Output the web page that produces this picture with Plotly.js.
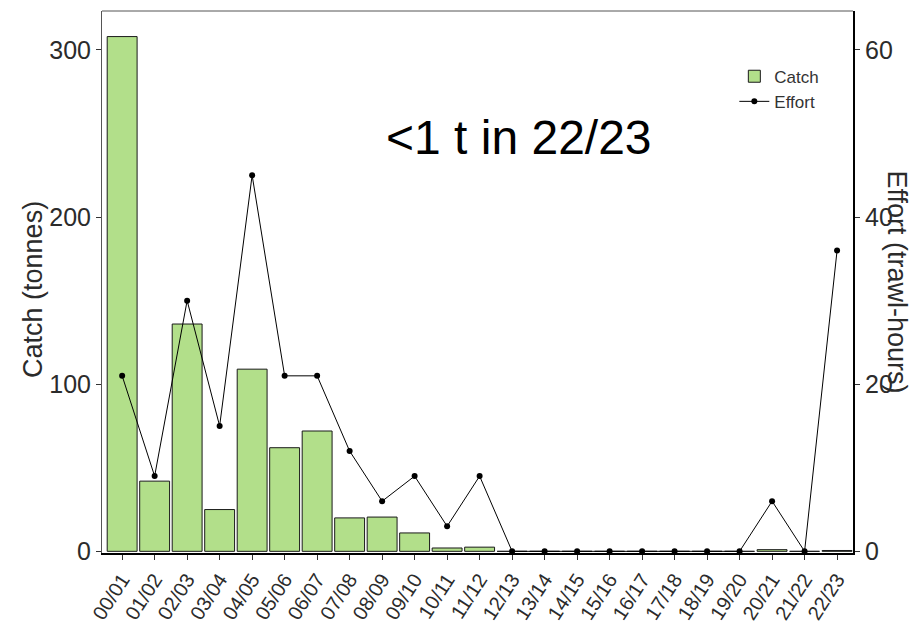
<!DOCTYPE html>
<html>
<head>
<meta charset="utf-8">
<script src="https://cdn.plot.ly/plotly-3.0.1.min.js"></script>
<style>html,body{margin:0;padding:0;background:#fff;}#chart{width:914px;height:637px;}</style>
</head>
<body>
<div id="chart"></div>
<script>
const seasons = ["00/01","01/02","02/03","03/04","04/05","05/06","06/07","07/08","08/09","09/10","10/11","11/12","12/13","13/14","14/15","15/16","16/17","17/18","18/19","19/20","20/21","21/22","22/23"];
const catchTonnes = [308, 42, 136, 25, 109, 62, 72, 20, 20.5, 11, 2, 2.5, 0, 0, 0, 0, 0, 0, 0, 0, 1, 0, 0.5];
const effortHours = [21, 9, 30, 15, 45, 21, 21, 12, 6, 9, 3, 9, 0, 0, 0, 0, 0, 0, 0, 0, 6, 0, 36];
const xIdx = seasons.map((s, i) => i);

const font = "Liberation Sans, Arial, sans-serif";
const txt = "#2b2b2b";

const traces = [
  {
    type: "bar", name: "Catch", x: xIdx, y: catchTonnes,
    marker: {color: "#B2DF8A", line: {color: "#1a1a1a", width: 1}},
    yaxis: "y"
  },
  {
    type: "scatter", mode: "lines+markers", name: "Effort", x: xIdx, y: effortHours,
    line: {color: "#000", width: 1}, marker: {color: "#000", size: 6},
    yaxis: "y2"
  }
];

const layout = {
  width: 914, height: 637,
  margin: {l: 102, r: 61, t: 11, b: 84},
  paper_bgcolor: "#fff", plot_bgcolor: "#fff",
  font: {family: font, color: txt},
  bargap: 0.08,
  showlegend: true,
  legend: {x: 0.842, y: 0.912, xanchor: "left", yanchor: "top", bgcolor: "rgba(0,0,0,0)",
           font: {family: font, size: 17, color: "#333"}, tracegroupgap: 0},
  xaxis: {
    range: [-0.62, 22.49], tickmode: "array", tickvals: xIdx, ticktext: seasons,
    tickangle: -57, tickfont: {size: 20, color: txt},
    ticks: "outside", ticklen: 5, tickcolor: "#333", tickwidth: 1,
    showline: true, linecolor: "#000", linewidth: 2,
    showgrid: false, zeroline: false, fixedrange: true
  },
  yaxis: {
    range: [-1, 323.3], tickvals: [0, 100, 200, 300],
    tickfont: {size: 25, color: txt},
    ticks: "outside", ticklen: 5, tickcolor: "#333", tickwidth: 1,
    showline: true, linecolor: "#555", linewidth: 1,
    showgrid: false, zeroline: false
  },
  yaxis2: {
    overlaying: "y", side: "right",
    range: [-0.2, 64.66], tickvals: [0, 20, 40, 60],
    tickfont: {size: 25, color: txt},
    ticks: "outside", ticklen: 5, tickcolor: "#333", tickwidth: 1,
    showline: true, linecolor: "#000", linewidth: 2,
    showgrid: false, zeroline: false
  },
  shapes: [
    {type: "line", xref: "paper", yref: "paper", x0: 0, x1: 1, y0: 1, y1: 1, line: {color: "#555", width: 1}}
  ],
  annotations: [
    {text: "Catch (tonnes)", xref: "paper", yref: "paper", x: -0.092, y: 0.487, textangle: -90,
     xanchor: "center", yanchor: "middle",
     showarrow: false, font: {family: font, size: 27, color: txt}},
    {text: "Effort (trawl-hours)", xref: "paper", yref: "paper", x: 1.058, y: 0.5, textangle: 90,
     xanchor: "center", yanchor: "middle",
     showarrow: false, font: {family: font, size: 27, color: txt}},
    {text: "<1 t in 22/23", xref: "paper", yref: "paper", x: 0.555, y: 0.767,
     xanchor: "center", yanchor: "middle",
     showarrow: false, font: {family: font, size: 48, color: "#000"}}
  ]
};

Plotly.newPlot("chart", traces, layout, {displayModeBar: false, staticPlot: true});
</script>
</body>
</html>
